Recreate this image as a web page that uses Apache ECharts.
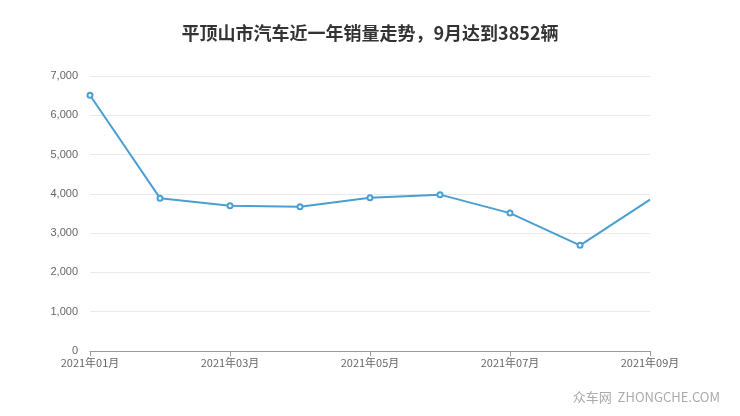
<!DOCTYPE html>
<html><head><meta charset="utf-8">
<script src="https://cdn.jsdelivr.net/npm/echarts@6/dist/echarts.min.js"></script>
<style>html,body{margin:0;padding:0;background:#fff}#c{width:740px;height:416px}</style>
</head><body><div id="c"></div>
<script>
var categories = ['2021年01月','2021年02月','2021年03月','2021年04月','2021年05月','2021年06月','2021年07月','2021年08月','2021年09月'];
var sales = [6510, 3890, 3700, 3670, 3900, 3980, 3510, 2690, 3852];
var titleText = '平顶山市汽车近一年销量走势，9月达到3852辆';

var chart = echarts.init(document.getElementById('c'));
var seriesData = sales.map(function(v, i){
  return i === sales.length - 1 ? {value: v, symbol: 'none'} : v;
});
chart.setOption({
  animation: false,
  title: {text: titleText, left: 'center', top: 19,
    textStyle: {fontSize: 18, fontWeight: 'bold', color: '#333', fontFamily: 'Noto Sans CJK SC'}},
  grid: {left: 90, right: 90, top: 76, bottom: 65},
  xAxis: {type: 'category', data: categories, boundaryGap: false,
    axisLine: {lineStyle: {color: '#999'}},
    axisTick: {interval: 1, lineStyle: {color: '#999'}},
    axisLabel: {interval: 1, color: '#666', fontSize: 11, margin: 6, fontFamily: 'Noto Sans CJK SC'}},
  yAxis: {type: 'value', min: 0, max: 7000, interval: 1000,
    axisLine: {show: false}, axisTick: {show: false},
    axisLabel: {color: '#666', fontSize: 11, margin: 12, formatter: function(v){return v.toLocaleString('en-US');}},
    splitLine: {lineStyle: {color: '#e6e9ee'}}},
  series: [{type: 'line', data: seriesData, symbol: 'emptyCircle', symbolSize: 5,
    lineStyle: {color: '#4a9fd0', width: 2}, itemStyle: {color: '#4a9fd0', borderWidth: 1.5}}],
  graphic: [{type: 'text', right: 20, top: 391,
    style: {text: '众车网  ZHONGCHE.COM', fill: '#aaa', font: '13px "Noto Sans CJK SC"'}}]
});
</script></body></html>
